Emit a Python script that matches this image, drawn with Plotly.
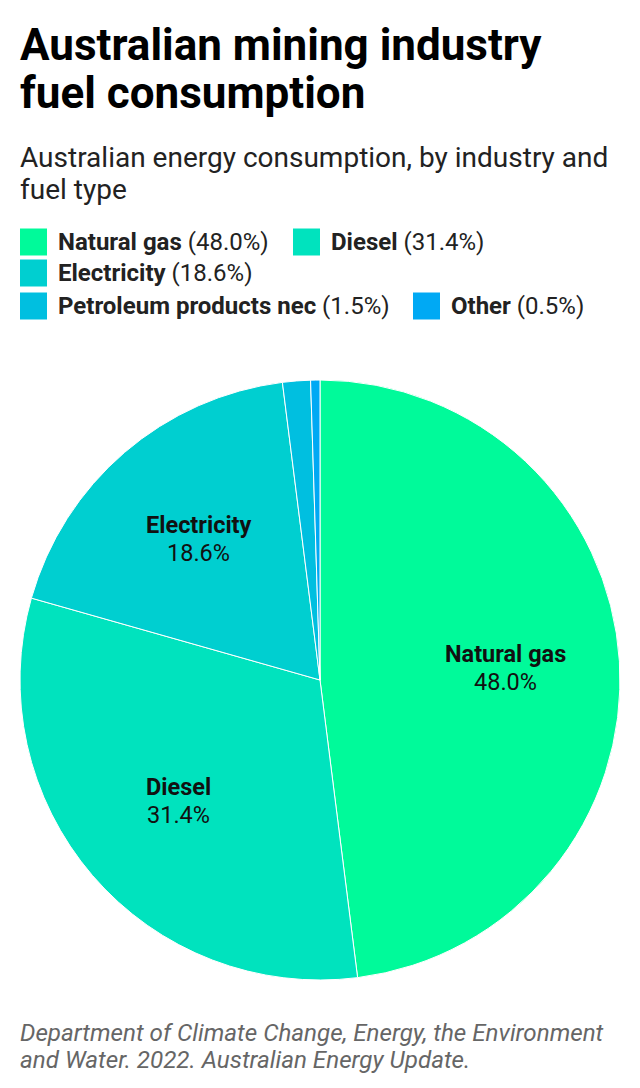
import math

import plotly.graph_objects as go

W, H = 640, 1088

fuels = ["Natural gas", "Diesel", "Electricity", "Petroleum products nec", "Other"]
shares = [48.0, 31.4, 18.6, 1.5, 0.5]
colours = ["#00FA9A", "#00E3BE", "#00CFD0", "#00BFE0", "#00A9F4"]
labelled = [True, True, True, False, False]

title_lines = ["Australian mining industry", "fuel consumption"]
subtitle_lines = ["Australian energy consumption, by industry and", "fuel type"]
source_lines = [
    "Department of Climate Change, Energy, the Environment",
    "and Water. 2022. Australian Energy Update.",
]

FONT = "Roboto"

# pie geometry in pixels
CX, CY, R = 320, 680, 300
LABEL_R = 0.62


def py(px):
    # pixel from top -> paper y
    return 1 - px / H


def pxx(px):
    return px / W


fig = go.Figure(
    go.Pie(
        labels=fuels,
        values=shares,
        textinfo="none",
        marker=dict(colors=colours, line=dict(color="white", width=1)),
        sort=False,
        direction="clockwise",
        rotation=0,
        hoverinfo="label+percent",
        showlegend=False,
        domain=dict(x=[pxx(CX - R), pxx(CX + R)], y=[py(CY + R), py(CY - R)]),
    )
)

annotations = []

# slice labels along each slice's bisector (name line + percent line)
total = sum(shares)
start = 0.0
for fuel, share, show in zip(fuels, shares, labelled):
    mid = (start + share / 2) / total * 2 * math.pi
    start += share
    if not show:
        continue
    lx = CX + LABEL_R * R * math.sin(mid)
    ly = CY - LABEL_R * R * math.cos(mid)
    for dy, txt in ((-14, f"<b>{fuel}</b>"), (14, f"{share:.1f}%")):
        annotations.append(dict(
            text=txt, x=pxx(lx), y=py(ly + dy),
            xanchor="center", yanchor="middle",
            font=dict(family=FONT, size=23.5, color="#111111"),
        ))

# title
for i, line in enumerate(title_lines):
    annotations.append(dict(
        text=f"<b>{line}</b>", x=pxx(18), y=py(45 + i * 48),
        xanchor="left", yanchor="middle",
        font=dict(family=FONT, size=44, color="#000000"),
    ))
# subtitle
for i, line in enumerate(subtitle_lines):
    annotations.append(dict(
        text=line, x=pxx(18), y=py(157 + i * 32),
        xanchor="left", yanchor="middle",
        font=dict(family=FONT, size=28, color="#222222"),
    ))
# source
for i, line in enumerate(source_lines):
    annotations.append(dict(
        text=f"<i>{line}</i>", x=pxx(18), y=py(1033 + i * 27),
        xanchor="left", yanchor="middle",
        font=dict(family=FONT, size=24.2, color="#666666"),
    ))

# legend built by hand: (row centre y, square left x)
legend_pos = [(242, 20), (242, 293), (273, 20), (306, 20), (306, 413)]
shapes = []
for (cy, x0), fuel, share, col in zip(legend_pos, fuels, shares, colours):
    shapes.append(dict(
        type="rect", xref="paper", yref="paper",
        x0=pxx(x0), x1=pxx(x0 + 27), y0=py(cy + 13.5), y1=py(cy - 13.5),
        fillcolor=col, line=dict(width=0),
    ))
    annotations.append(dict(
        text=f"<b>{fuel}</b> ({share:.1f}%)", x=pxx(x0 + 36), y=py(cy),
        xanchor="left", yanchor="middle",
        font=dict(family=FONT, size=24, color="#222222"),
    ))

for a in annotations:
    a.update(xref="paper", yref="paper", showarrow=False)

fig.update_layout(
    width=W, height=H,
    margin=dict(l=0, r=0, t=0, b=0),
    paper_bgcolor="white",
    plot_bgcolor="white",
    annotations=annotations,
    shapes=shapes,
    font=dict(family=FONT),
)

fig.write_html(
    "out.html",
    config={"displayModeBar": False},
    post_script="document.body.style.margin='0';",
)
